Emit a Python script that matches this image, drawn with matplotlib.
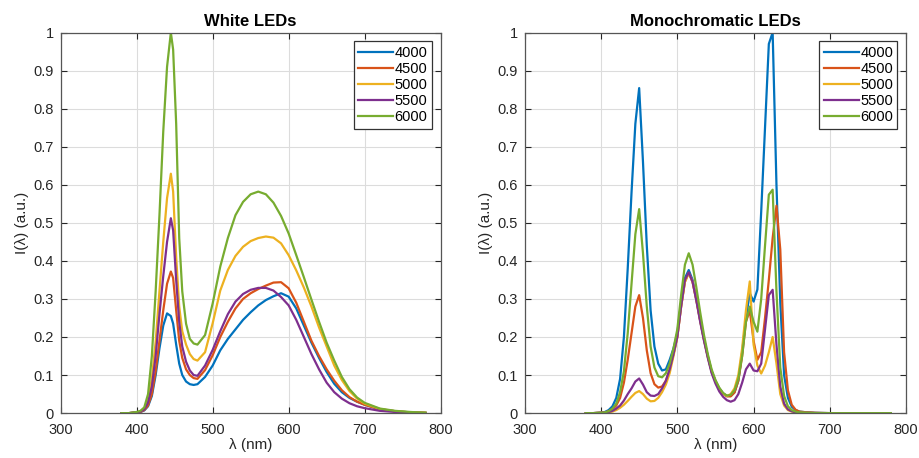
import numpy as np
import matplotlib
matplotlib.use('Agg')
import matplotlib.pyplot as plt
from matplotlib.ticker import FuncFormatter

plt.rcParams['font.family'] = ['Liberation Sans', 'DejaVu Sans']

# CCT labels for legend
cct = ['4000', '4500', '5000', '5500', '6000']
colors = ['#0072BD', '#D95319', '#EDB120', '#7E2F8E', '#77AC30']

# ---- white LEDs ----
wl_white = [380, 390, 400, 405, 410, 415, 420, 425, 430, 435, 440, 445, 448, 452, 456, 460, 465, 470, 475, 480,
            490, 500, 510, 520, 530, 540, 550, 560, 570, 580, 590, 600, 610, 620, 630, 640, 650, 660, 670, 680,
            690, 700, 720, 740, 760, 780]
white_4000 = [0, 0, 0.002, 0.003, 0.007, 0.018, 0.045, 0.1, 0.17, 0.23, 0.262, 0.255, 0.235, 0.18, 0.13, 0.1, 0.083, 0.076, 0.074, 0.076,
              0.095, 0.125, 0.165, 0.195, 0.22, 0.245, 0.265, 0.283, 0.297, 0.307, 0.315, 0.306, 0.275, 0.23, 0.185, 0.145, 0.108, 0.077, 0.055, 0.04,
              0.03, 0.022, 0.01, 0.005, 0.002, 0.001]
white_4500 = [0, 0, 0.002, 0.003, 0.008, 0.02, 0.05, 0.11, 0.19, 0.27, 0.34, 0.372, 0.355, 0.27, 0.19, 0.145, 0.115, 0.1, 0.092, 0.09,
              0.113, 0.152, 0.2, 0.24, 0.275, 0.3, 0.315, 0.326, 0.335, 0.343, 0.344, 0.328, 0.29, 0.24, 0.19, 0.15, 0.115, 0.085, 0.06, 0.042,
              0.03, 0.022, 0.01, 0.005, 0.002, 0.001]
white_5000 = [0, 0, 0.002, 0.005, 0.012, 0.035, 0.09, 0.187, 0.32, 0.45, 0.565, 0.629, 0.582, 0.41, 0.28, 0.215, 0.18, 0.155, 0.142, 0.138,
              0.16, 0.236, 0.322, 0.376, 0.413, 0.437, 0.452, 0.46, 0.464, 0.461, 0.446, 0.415, 0.375, 0.33, 0.28, 0.225, 0.175, 0.125, 0.087, 0.058,
              0.038, 0.025, 0.011, 0.005, 0.002, 0.001]
white_5500 = [0, 0, 0.002, 0.004, 0.01, 0.028, 0.07, 0.15, 0.26, 0.36, 0.45, 0.512, 0.48, 0.35, 0.24, 0.175, 0.135, 0.112, 0.1, 0.098,
              0.125, 0.166, 0.215, 0.26, 0.293, 0.313, 0.324, 0.329, 0.329, 0.322, 0.305, 0.283, 0.245, 0.2, 0.155, 0.115, 0.08, 0.055, 0.038, 0.026,
              0.018, 0.013, 0.006, 0.003, 0.001, 0]
white_6000 = [0, 0, 0.003, 0.006, 0.015, 0.05, 0.15, 0.32, 0.52, 0.74, 0.91, 1.0, 0.955, 0.76, 0.46, 0.32, 0.235, 0.195, 0.183, 0.18,
              0.205, 0.288, 0.385, 0.46, 0.52, 0.555, 0.575, 0.582, 0.575, 0.553, 0.518, 0.472, 0.415, 0.357, 0.298, 0.24, 0.185, 0.138, 0.095, 0.063,
              0.041, 0.027, 0.012, 0.006, 0.003, 0.001]

# ---- monochromatic LEDs ----
wl_mono = [380, 390, 400,
           405, 410, 415, 420, 425, 430, 435, 440, 445, 450,
           455, 460, 465, 470, 475, 480, 485, 490, 495, 500,
           505, 510, 515, 520, 525, 530, 535, 540, 545, 550,
           555, 560, 565, 570, 575, 580, 585, 590, 595, 600,
           605, 610, 615, 620, 625, 630, 635, 640, 645, 650,
           655, 660, 670, 680, 700, 720, 740, 760, 780]
mono_4000 = [0, 0, 0.001,
             0.003, 0.008, 0.018, 0.04, 0.09, 0.2, 0.38, 0.58, 0.76, 0.854,
             0.66, 0.44, 0.27, 0.175, 0.13, 0.112, 0.115, 0.14, 0.17, 0.21,
             0.29, 0.355, 0.376, 0.35, 0.3, 0.245, 0.195, 0.15, 0.11, 0.085,
             0.065, 0.052, 0.045, 0.045, 0.055, 0.085, 0.16, 0.25, 0.315, 0.293,
             0.325, 0.53, 0.75, 0.97, 1.0, 0.6, 0.29, 0.1, 0.04, 0.017,
             0.008, 0.004, 0.002, 0.001, 0, 0, 0, 0, 0]
mono_4500 = [0, 0, 0.001,
             0.002, 0.005, 0.01, 0.02, 0.04, 0.08, 0.14, 0.21, 0.28, 0.31,
             0.25, 0.165, 0.105, 0.076, 0.067, 0.07, 0.085, 0.115, 0.155, 0.2,
             0.28, 0.345, 0.368, 0.345, 0.297, 0.243, 0.193, 0.148, 0.109, 0.084,
             0.064, 0.051, 0.044, 0.044, 0.054, 0.085, 0.15, 0.24, 0.27, 0.19,
             0.14, 0.16, 0.25, 0.35, 0.46, 0.545, 0.43, 0.16, 0.06, 0.022,
             0.009, 0.004, 0.002, 0.001, 0, 0, 0, 0, 0]
mono_5000 = [0, 0, 0.001,
             0.001, 0.002, 0.004, 0.008, 0.014, 0.022, 0.032, 0.043, 0.053, 0.058,
             0.05, 0.038, 0.031, 0.032, 0.04, 0.055, 0.075, 0.105, 0.15, 0.2,
             0.28, 0.345, 0.368, 0.345, 0.297, 0.243, 0.193, 0.148, 0.109, 0.084,
             0.064, 0.051, 0.045, 0.05, 0.065, 0.1, 0.17, 0.27, 0.346, 0.18,
             0.125, 0.104, 0.125, 0.16, 0.2, 0.13, 0.05, 0.02, 0.008, 0.004,
             0.002, 0.001, 0.001, 0, 0, 0, 0, 0, 0]
mono_5500 = [0, 0, 0.001,
             0.002, 0.003, 0.006, 0.012, 0.02, 0.033, 0.05, 0.065, 0.083, 0.091,
             0.075, 0.055, 0.046, 0.045, 0.05, 0.065, 0.085, 0.115, 0.155, 0.2,
             0.28, 0.35, 0.37, 0.345, 0.295, 0.24, 0.19, 0.145, 0.105, 0.078,
             0.057, 0.043, 0.034, 0.03, 0.034, 0.05, 0.08, 0.115, 0.13, 0.112,
             0.11, 0.13, 0.22, 0.31, 0.324, 0.18, 0.07, 0.025, 0.01, 0.005,
             0.002, 0.001, 0.001, 0, 0, 0, 0, 0, 0]
mono_6000 = [0, 0, 0.001,
             0.002, 0.005, 0.012, 0.025, 0.055, 0.11, 0.21, 0.34, 0.47, 0.536,
             0.42, 0.28, 0.175, 0.12, 0.097, 0.094, 0.105, 0.13, 0.17, 0.22,
             0.31, 0.39, 0.42, 0.39, 0.33, 0.265, 0.205, 0.155, 0.115, 0.087,
             0.067, 0.053, 0.046, 0.048, 0.06, 0.09, 0.15, 0.24, 0.28, 0.24,
             0.214, 0.3, 0.44, 0.574, 0.587, 0.32, 0.12, 0.045, 0.018, 0.008,
             0.004, 0.002, 0.001, 0, 0, 0, 0, 0, 0]

white = [white_4000, white_4500, white_5000, white_5500, white_6000]
mono = [mono_4000, mono_4500, mono_5000, mono_5500, mono_6000]

fig = plt.figure(figsize=(9.19, 4.58), dpi=100)
ax1 = fig.add_axes([0.066, 0.098, 0.4135, 0.831])
ax2 = fig.add_axes([0.571, 0.098, 0.415, 0.831])


def yfmt(v, pos):
    if abs(v) < 1e-9:
        return '0'
    if abs(v - 1) < 1e-9:
        return '1'
    return '%.1f' % v


for ax, wl, data, title in [(ax1, wl_white, white, 'White LEDs'),
                             (ax2, wl_mono, mono, 'Monochromatic LEDs')]:
    for k in range(5):
        ax.plot(wl, data[k], color=colors[k], lw=1.6, label=cct[k])
    ax.set_xlim(300, 800)
    ax.set_ylim(0, 1)
    ax.set_xticks(np.arange(300, 801, 100))
    ax.set_yticks(np.arange(0, 1.01, 0.1))
    ax.yaxis.set_major_formatter(FuncFormatter(yfmt))
    ax.grid(True, color='#dcdcdc', lw=0.8)
    ax.set_axisbelow(True)
    ax.tick_params(direction='in', top=True, right=True, length=4, width=0.8,
                   labelsize=10.5, colors='#262626')
    ax.tick_params(axis='y', pad=5)
    ax.tick_params(axis='x', pad=7)
    for s in ax.spines.values():
        s.set_color('#555555')
        s.set_linewidth(0.9)
    ax.set_title(title, fontsize=12, fontweight='bold', pad=5)
    ax.set_xlabel(u'λ (nm)', fontsize=11, color='#262626', labelpad=1)
    ax.set_ylabel(u'I(λ) (a.u.)', fontsize=11, color='#262626', labelpad=3)
    leg = ax.legend(loc='upper right', fontsize=10.5, fancybox=False, framealpha=1,
                    edgecolor='#333333', handlelength=2.4, handletextpad=0.1,
                    labelspacing=0.15, borderpad=0.3, borderaxespad=0.6)
    leg.get_frame().set_linewidth(0.9)

plt.savefig('out.png', dpi=100)
